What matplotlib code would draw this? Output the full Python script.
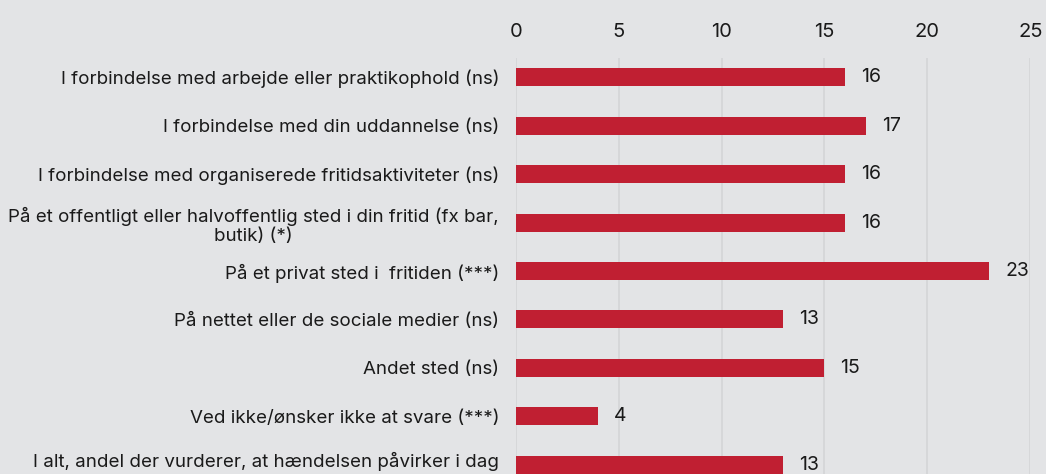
import matplotlib.pyplot as plt
import matplotlib.transforms as mtransforms

labels = ["I forbindelse med arbejde eller praktikophold (ns)",
          "I forbindelse med din uddannelse (ns)",
          "I forbindelse med organiserede fritidsaktiviteter (ns)",
          "På et offentligt eller halvoffentlig sted i din fritid (fx bar,\nbutik) (*)",
          "På et privat sted i  fritiden (***)",
          "På nettet eller de sociale medier (ns)",
          "Andet sted (ns)",
          "Ved ikke/ønsker ikke at svare (***)",
          "I alt, andel der vurderer, at hændelsen påvirker i dag"]
values = [16, 17, 16, 16, 23, 13, 15, 4, 13]
ticks = [0, 5, 10, 15, 20, 25]

plt.rcParams['font.family'] = ['Inter', 'DejaVu Sans']
bg = '#e3e4e6'
fig = plt.figure(figsize=(10.46, 4.74), dpi=100, facecolor=bg)
ax = fig.add_axes([0.493, 0.0, 0.492, 0.878], facecolor=bg)

y = list(range(len(labels)))
ax.barh(y, values, height=0.37, color='#c01f32', zorder=3)
for yi, v in zip(y, values):
    ax.annotate(str(v), (v, yi), xytext=(11.5, 0), textcoords='offset points',
                va='center', ha='left', fontsize=14, color='#1a1a1a')

ax.set_xlim(0, 25)
ax.set_ylim(8.19, -0.4)
ax.set_xticks(ticks)
ax.xaxis.tick_top()
ax.set_yticks(y)
ax.set_yticklabels(labels)
for lab in ax.get_yticklabels():
    lab.set_multialignment('center')
ax.tick_params(axis='x', length=0, labelsize=14.5, pad=12, colors='#1a1a1a')
ax.tick_params(axis='y', length=0, labelsize=13.5, pad=12, colors='#1a1a1a')
ax.grid(axis='x', color='#d4d5d7', linewidth=1.2, zorder=0)
for s in ax.spines.values():
    s.set_visible(False)

# last label sits a little higher so it is not cut at the bottom
last = ax.get_yticklabels()[-1]
last.set_transform(last.get_transform() +
                   mtransforms.ScaledTranslation(0, 4 / 72, fig.dpi_scale_trans))

fig.savefig('out.png', dpi=100, facecolor=bg)
